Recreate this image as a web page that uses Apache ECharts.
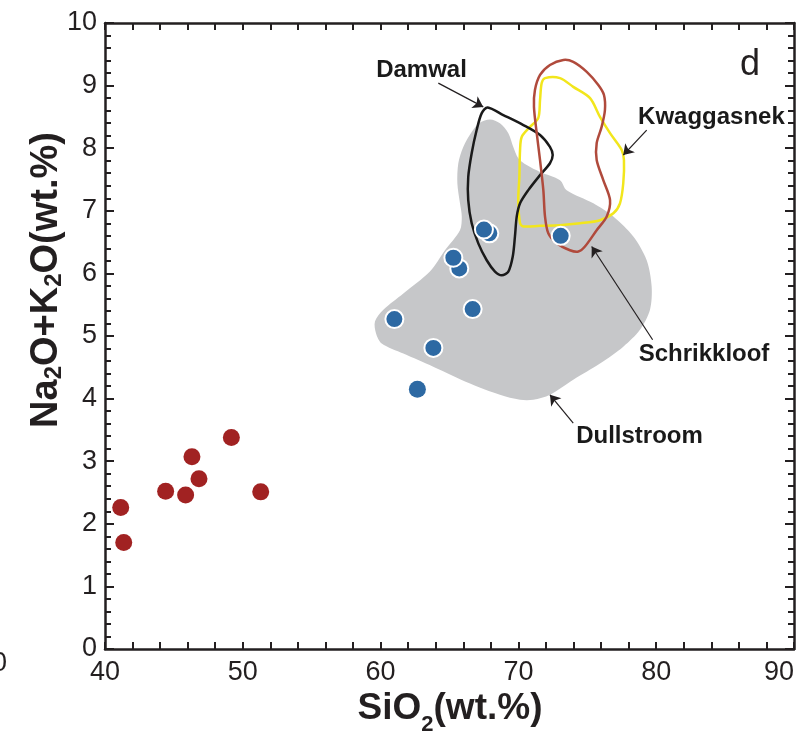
<!DOCTYPE html>
<html>
<head>
<meta charset="utf-8">
<script src="https://cdn.jsdelivr.net/npm/echarts@6/dist/echarts.min.js"></script>
<style>
  html, body { margin: 0; padding: 0; background: #fff; }
  #chart { width: 803px; height: 735px; }
</style>
</head>
<body>
<div id="chart"></div>
<script>
// TAS-style plot: total alkali vs silica, with fields of reference suites.

const xTicks = [40, 50, 60, 70, 80, 90];
const yTicks = [0, 1, 2, 3, 4, 5, 6, 7, 8, 9, 10];

// Mafic samples (red)
const maficSiO2 = [41.14, 41.36, 44.40, 45.85, 46.31, 46.82, 49.17, 51.30];
const maficAlk  = [2.26, 1.70, 2.52, 2.46, 3.07, 2.72, 3.38, 2.51];

// Felsic samples (blue, white rim)
const felsicSiO2 = [67.89, 67.50, 65.71, 65.28, 73.07, 66.68, 61.00, 63.83];
const felsicAlk  = [6.64, 6.70, 6.08, 6.25, 6.60, 5.43, 5.27, 4.81];

// Felsic sample without rim
const loneSiO2 = [62.67];
const loneAlk  = [4.15];

// Reference fields: [SiO2, Na2O+K2O]
const dullstroomField = [
  [67.94, 8.46], [68.66, 8.40], [69.27, 8.24], [69.63, 8.02], [69.99, 7.84],
  [70.60, 7.73], [71.57, 7.62], [73.02, 7.49], [73.50, 7.33], [75.44, 7.12],
  [76.89, 6.91], [78.34, 6.59], [79.31, 6.21], [79.67, 5.79], [79.55, 5.42],
  [78.82, 5.10], [77.61, 4.83], [75.92, 4.56], [73.98, 4.30], [72.29, 4.06],
  [71.08, 3.98], [70.12, 3.98], [68.66, 4.06], [66.49, 4.24], [63.82, 4.51],
  [61.65, 4.72], [60.08, 4.88], [59.67, 5.04], [59.59, 5.23], [60.20, 5.42],
  [61.65, 5.68], [63.58, 6.03], [64.67, 6.37], [65.76, 6.69], [65.89, 6.91],
  [65.76, 7.12], [65.57, 7.44], [65.64, 7.76], [66.00, 8.02], [66.61, 8.26],
  [67.21, 8.41]
];
const damwalField = [
  [67.77, 8.65], [68.90, 8.53], [70.36, 8.37], [71.57, 8.21], [72.29, 8.02],
  [72.49, 7.89], [72.29, 7.76], [71.57, 7.57], [70.72, 7.33], [70.12, 7.12],
  [69.88, 6.91], [69.75, 6.59], [69.59, 6.27], [69.27, 6.03], [68.79, 5.97],
  [68.30, 6.03], [67.70, 6.21], [67.09, 6.48], [66.61, 6.80], [66.36, 7.17],
  [66.36, 7.54], [66.61, 7.92], [66.97, 8.29], [67.34, 8.56]
];
const kwaggasnekField = [
  [71.93, 9.12], [73.02, 9.12], [73.98, 8.98], [75.20, 8.80], [75.92, 8.50],
  [76.65, 8.24], [77.50, 7.97], [77.66, 7.81], [77.61, 7.44], [77.37, 7.12],
  [76.89, 6.96], [75.92, 6.85], [74.47, 6.80], [73.02, 6.77], [71.57, 6.76],
  [70.36, 6.75], [70.12, 6.80], [69.99, 7.17], [70.07, 7.54], [70.12, 7.97],
  [70.24, 8.18], [70.84, 8.34], [71.44, 8.48], [71.57, 8.77], [71.69, 9.04]
];
const schrikkloofField = [
  [73.26, 9.41], [73.98, 9.38], [74.96, 9.22], [75.80, 9.01], [76.21, 8.85],
  [76.28, 8.61], [76.04, 8.34], [75.68, 8.08], [75.68, 7.81], [76.16, 7.49],
  [76.65, 7.17], [76.41, 6.91], [75.68, 6.69], [74.83, 6.43], [74.35, 6.35],
  [73.74, 6.37], [72.78, 6.48], [72.17, 6.64], [71.93, 6.91], [71.81, 7.33],
  [71.57, 7.81], [71.33, 8.24], [71.13, 8.66], [71.20, 8.93], [71.57, 9.17],
  [72.29, 9.33]
];

// Field names and where they are written
const fieldNames  = ['Damwal', 'Kwaggasnek', 'Schrikkloof', 'Dullstroom'];
const fieldLabelX = [62.97, 84.01, 83.47, 78.79];
const fieldLabelY = [9.25, 8.50, 4.70, 3.39];
// Leader arrows: [from, to]
const leaderArrows = [
  [[64.19, 9.04], [67.45, 8.66]],
  [[79.31, 8.29], [77.61, 7.89]],
  [[79.74, 4.94], [75.32, 6.43]],
  [[73.98, 3.61], [72.29, 4.06]]
];
// Panel letter
const panelLetter = 'd';
const panelLetterPos = [86.81, 9.33];

const INK = '#231f20';
const FONT = '"Liberation Sans", Arial, Helvetica, sans-serif';

function zip(xs, ys) { return xs.map((x, i) => [x, ys[i]]); }

function fieldSeries(name, pts, style, z) {
  return {
    type: 'custom',
    name: name,
    data: pts,
    encode: { x: 0, y: 1 },
    clip: true,
    silent: true,
    z: z,
    renderItem: function (params, api) {
      if (params.dataIndex !== 0) return null;
      return {
        type: 'polygon',
        shape: { points: pts.map(p => api.coord(p)), smooth: 0.3 },
        style: style
      };
    }
  };
}

function xAxisCfg(pos) {
  return {
    type: 'value', position: pos, min: 40, max: 90, interval: 10,
    axisLine: { show: true, onZero: false, lineStyle: { color: INK, width: 2.5 } },
    axisTick: { show: true, inside: true, length: 7, lineStyle: { color: INK, width: 2 } },
    minorTick: { show: true, splitNumber: 5, length: 7, lineStyle: { color: INK, width: 2 } },
    splitLine: { show: false },
    axisLabel: {
      show: pos === 'bottom', fontSize: 27, color: INK, fontFamily: FONT, margin: 10,
      alignMaxLabel: 'right',
      formatter: v => (xTicks.indexOf(v) >= 0 ? String(v) : '')
    }
  };
}
function yAxisCfg(pos) {
  return {
    type: 'value', position: pos, min: 0, max: 10, interval: 1,
    axisLine: { show: true, onZero: false, lineStyle: { color: INK, width: 2.5 } },
    axisTick: { show: true, inside: true, length: 9, lineStyle: { color: INK, width: 2 } },
    minorTick: { show: true, splitNumber: 5, length: 6, lineStyle: { color: INK, width: 2 } },
    splitLine: { show: false },
    axisLabel: {
      show: pos === 'left', fontSize: 27, color: INK, fontFamily: FONT, margin: 8,
      formatter: v => (yTicks.indexOf(v) >= 0 ? String(v) : '')
    }
  };
}

const chart = echarts.init(document.getElementById('chart'), null, { renderer: 'canvas' });

const baseGraphics = [
  {
    type: 'text', x: 44, y: 280, rotation: Math.PI / 2,
    style: {
      text: '{b|Na}{s|2}{b|O+K}{s|2}{b|O(wt.%)}',
      align: 'center', verticalAlign: 'middle',
      rich: {
        b: { fontSize: 38, fontWeight: 'bold', fontFamily: FONT, fill: INK, lineHeight: 44, verticalAlign: 'bottom' },
        s: { fontSize: 24, fontWeight: 'bold', fontFamily: FONT, fill: INK, lineHeight: 30, verticalAlign: 'bottom' }
      }
    }
  },
  {
    type: 'text', x: 450, y: 710,
    style: {
      text: '{b|SiO}{s|2}{b|(wt.%)}',
      align: 'center', verticalAlign: 'middle',
      rich: {
        b: { fontSize: 37, fontWeight: 'bold', fontFamily: FONT, fill: INK, lineHeight: 40, verticalAlign: 'top' },
        s: { fontSize: 22, fontWeight: 'bold', fontFamily: FONT, fill: INK, lineHeight: 22, padding: [24, 0, 0, 0], verticalAlign: 'top' }
      }
    }
  },
  {
    type: 'text', x: 7, y: 664,
    style: { text: '0', align: 'right', verticalAlign: 'middle', fontSize: 27, fontFamily: FONT, fill: INK }
  }
];

chart.setOption({
  animation: false,
  backgroundColor: '#ffffff',
  grid: { left: 105, right: 9, top: 23, bottom: 86, containLabel: false, outerBoundsMode: 'none' },
  xAxis: [xAxisCfg('bottom'), xAxisCfg('top')],
  yAxis: [yAxisCfg('left'), yAxisCfg('right')],
  graphic: baseGraphics,
  series: [
    fieldSeries('Dullstroom', dullstroomField, { fill: '#c6c7c9', stroke: null }, 1),
    fieldSeries('Kwaggasnek', kwaggasnekField, { fill: 'none', stroke: '#f2e61c', lineWidth: 2.5 }, 2),
    fieldSeries('Damwal', damwalField, { fill: 'none', stroke: '#1a1a1a', lineWidth: 2.5 }, 3),
    fieldSeries('Schrikkloof', schrikkloofField, { fill: 'none', stroke: '#b04a3c', lineWidth: 2.5 }, 4),
    {
      type: 'lines', coordinateSystem: 'cartesian2d', z: 5, silent: true,
      symbol: ['none', 'arrow'], symbolSize: 10,
      lineStyle: { color: INK, width: 1.2, opacity: 1 },
      data: leaderArrows.map(a => ({ coords: a }))
    },
    {
      type: 'scatter', name: 'Mafic', z: 6, symbolSize: 17,
      itemStyle: { color: '#a12222', opacity: 1 },
      data: zip(maficSiO2, maficAlk)
    },
    {
      type: 'scatter', name: 'Felsic (lone)', z: 6, symbolSize: 17,
      itemStyle: { color: '#2d69a3', opacity: 1 },
      data: zip(loneSiO2, loneAlk)
    },
    {
      type: 'scatter', name: 'Felsic', z: 7, symbolSize: 18,
      itemStyle: { color: '#2d69a3', borderColor: '#ffffff', borderWidth: 2, opacity: 1 },
      data: zip(felsicSiO2, felsicAlk)
    }
  ]
});

// Field names and panel letter, placed through the axes' own scales
const textGraphics = fieldNames.map((n, i) => {
  const p = chart.convertToPixel({ gridIndex: 0 }, [fieldLabelX[i], fieldLabelY[i]]);
  return {
    type: 'text', x: p[0], y: p[1], z: 100,
    style: { text: n, align: 'center', verticalAlign: 'middle', fontSize: 24, fontWeight: 'bold', fontFamily: FONT, fill: '#1a1a1a' }
  };
});
const lp = chart.convertToPixel({ gridIndex: 0 }, panelLetterPos);
textGraphics.push({
  type: 'text', x: lp[0], y: lp[1], z: 100,
  style: { text: panelLetter, align: 'center', verticalAlign: 'middle', fontSize: 36, fontFamily: FONT, fill: INK }
});
chart.setOption({ graphic: baseGraphics.concat(textGraphics) });
</script>
</body>
</html>
